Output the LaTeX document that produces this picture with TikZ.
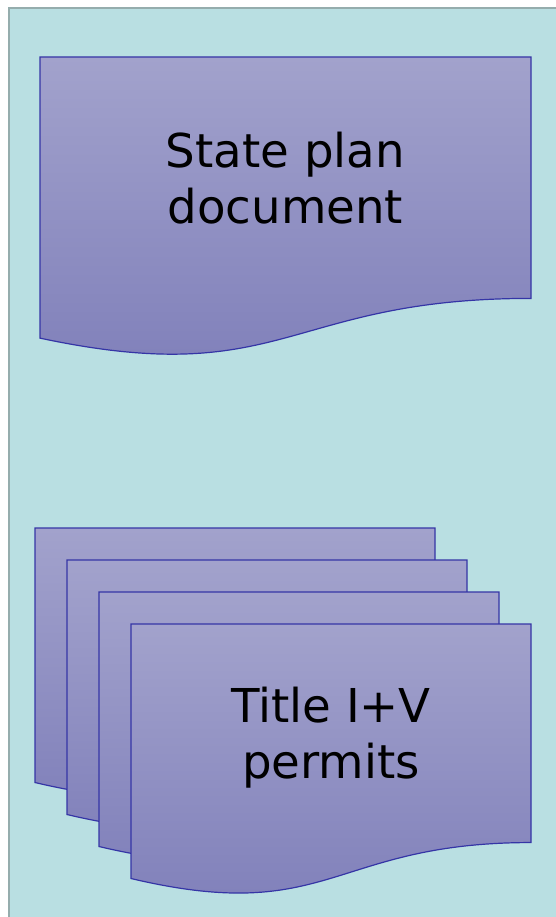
\documentclass[tikz,border=0pt]{standalone}
\usepackage{fontspec}
\setmainfont{DejaVu Sans}
\definecolor{panelbg}{HTML}{B9DFE2}
\definecolor{panelline}{HTML}{95ADAD}
\definecolor{doctop}{HTML}{A2A2CC}
\definecolor{docbottom}{HTML}{7E7EB9}
\definecolor{docline}{HTML}{3535A6}
\tikzset{
	docshape/.style={draw=docline, line width=0.9pt, top color=doctop, bottom color=docbottom},
	doclabel/.style={align=center, font=\fontsize{35}{42}\selectfont}
}
% wavy document: left, top, width, height
\newcommand{\wavedoc}[4]{%
	\draw[docshape] (#1,#2) -- (#1+#3,#2) -- (#1+#3,#2+0.802*#4)
		.. controls (#1+0.5*#3,#2+0.802*#4) and (#1+0.5*#3,#2+1.1075*#4) .. (#1,#2+0.934*#4) -- cycle;%
}
\begin{document}
\begin{tikzpicture}[x=0.75pt,y=-0.75pt]
\useasboundingbox (0,0) rectangle (556,917);
\draw[fill=panelbg, draw=panelline, line width=1.5pt] (8.5,8.5) rectangle (580,940);

\wavedoc{40}{57}{491}{301}
\foreach \i in {0,...,3} {
	\wavedoc{35+32*\i}{528+32*\i}{400}{272.5}
}

\node[doclabel] (plan) at (285.5,178) {State plan\\document};
\node[doclabel] (permits) at (331,738) {Title I+V\\permits};
\end{tikzpicture}
\end{document}
